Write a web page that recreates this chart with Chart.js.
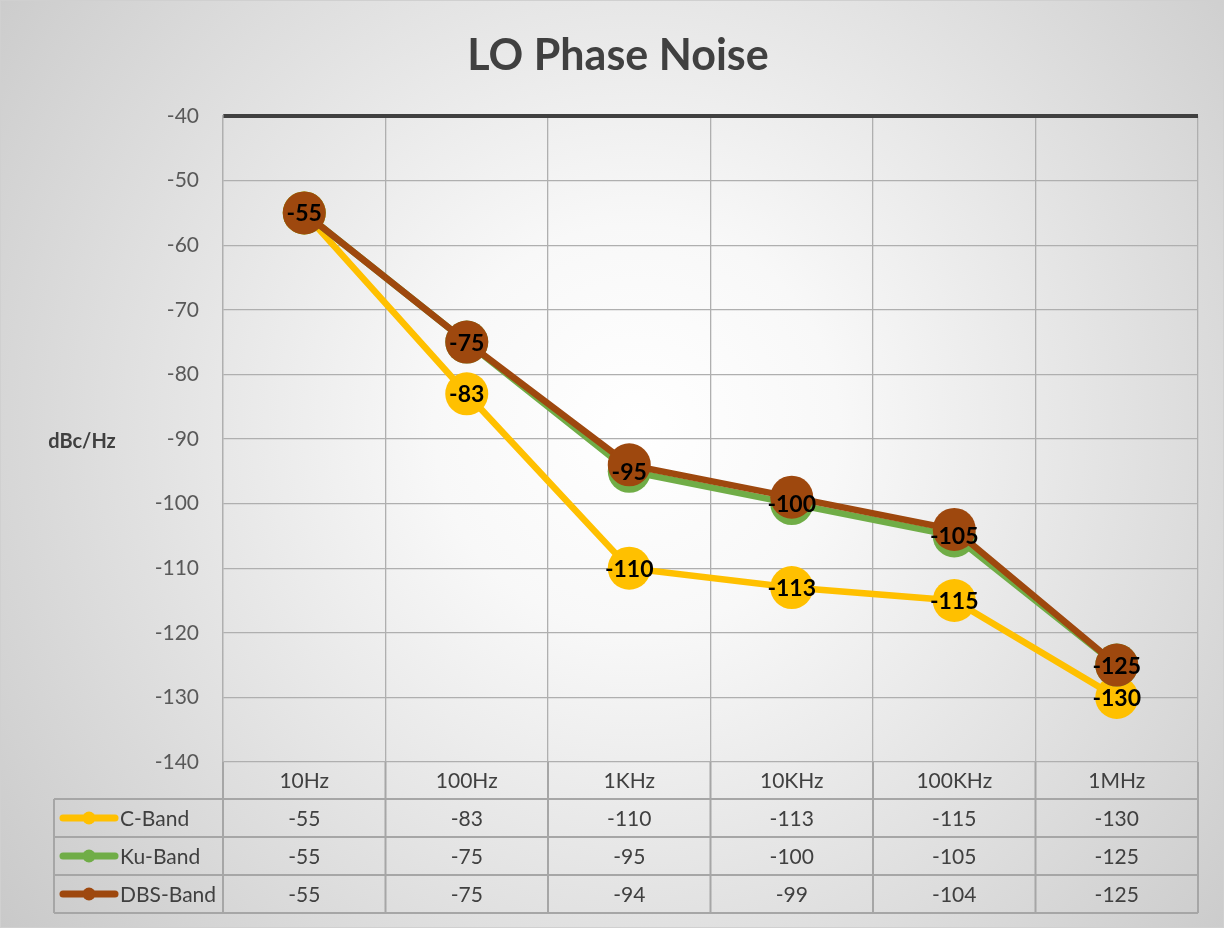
<!DOCTYPE html>
<html>
<head>
<meta charset="utf-8">
<script src="https://cdn.jsdelivr.net/npm/chart.js@4.4.1/dist/chart.umd.min.js"></script>
<style>
  html, body { margin: 0; padding: 0; }
  #wrap {
    width: 1224px;
    height: 928px;
    box-sizing: border-box;
    border: 1px solid #d0d0d0;
    background: radial-gradient(circle farthest-corner at 52% 46%, #ffffff 0%, #f8f8f8 25%, #c9c9c9 100%);
  }
</style>
</head>
<body>
<div id="wrap"><canvas id="myChart"></canvas></div>
<script>
// chart data
const freqs = ["10Hz", "100Hz", "1KHz", "10KHz", "100KHz", "1MHz"];
const cBand = [-55, -83, -110, -113, -115, -130];
const kuBand = [-55, -75, -95, -100, -105, -125];
const dbsBand = [-55, -75, -94, -99, -104, -125];
const seriesNames = ["C-Band", "Ku-Band", "DBS-Band"];
const seriesColors = ["#FFC000", "#70AD47", "#9E480E"];
const yTicks = [-40, -50, -60, -70, -80, -90, -100, -110, -120, -130, -140];

const seriesValues = [cBand, kuBand, dbsBand];
const fontName = "Lato, 'Open Sans', sans-serif";
const gridGrey = "#afafaf";
const tableGrey = "#a6a6a6";

// title, axis name, data labels and the data table under the plot
const extrasPlugin = {
  id: "extras",
  afterDatasetsDraw(chart) {
    const ctx = chart.ctx;
    ctx.save();
    ctx.fillStyle = "#000000";
    ctx.font = "bold 23px " + fontName;
    ctx.textAlign = "center";
    ctx.textBaseline = "middle";
    // labels for C-Band and Ku-Band (DBS labels are hidden in the original)
    [0, 1].forEach((dsIndex) => {
      let meta = chart.getDatasetMeta(dsIndex);
      meta.data.forEach((pt, i) => {
        if (dsIndex === 1 && kuBand[i] === cBand[i]) return;
        ctx.fillText(String(seriesValues[dsIndex][i]), pt.x, pt.y + 1);
      });
    });
    ctx.restore();
  },
  afterDraw(chart) {
    const ctx = chart.ctx;
    const area = chart.chartArea;
    const xScale = chart.scales.x;
    ctx.save();

    // title
    ctx.fillStyle = "#404040";
    ctx.font = "bold 43px " + fontName;
    ctx.textAlign = "center";
    ctx.textBaseline = "middle";
    ctx.fillText("LO Phase Noise", 617, 55);

    // y axis name, horizontal
    ctx.font = "bold 20px " + fontName;
    ctx.fillStyle = "#404040";
    ctx.fillText("dBc/Hz", 81, 441);

    // data table
    const step = xScale.getPixelForValue(1) - xScale.getPixelForValue(0);
    const colEdges = freqs.map((f, i) => xScale.getPixelForValue(i) - step / 2);
    colEdges.push(area.right);
    const headTop = area.bottom;
    const rowH = 38;
    const rowTop = headTop + 37;
    const tableLeft = 53;
    const tableBottom = rowTop + rowH * seriesNames.length;

    ctx.strokeStyle = tableGrey;
    ctx.lineWidth = 2;
    ctx.beginPath();
    colEdges.forEach((x) => {
      ctx.moveTo(x, headTop);
      ctx.lineTo(x, tableBottom);
    });
    ctx.moveTo(tableLeft, rowTop);
    ctx.lineTo(tableLeft, tableBottom);
    for (let r = 0; r <= seriesNames.length; r++) {
      ctx.moveTo(tableLeft, rowTop + r * rowH);
      ctx.lineTo(area.right, rowTop + r * rowH);
    }
    ctx.stroke();

    ctx.font = "21px " + fontName;
    ctx.fillStyle = "#404040";
    seriesNames.forEach((name, r) => {
      let cy = rowTop + r * rowH + rowH / 2;
      // legend key
      ctx.strokeStyle = seriesColors[r];
      ctx.lineWidth = 7;
      ctx.lineCap = "round";
      ctx.beginPath();
      ctx.moveTo(62, cy);
      ctx.lineTo(114, cy);
      ctx.stroke();
      ctx.fillStyle = seriesColors[r];
      ctx.beginPath();
      ctx.arc(88, cy, 6.5, 0, Math.PI * 2);
      ctx.fill();
      ctx.fillStyle = "#404040";
      ctx.textAlign = "left";
      ctx.fillText(name, 119, cy + 1);
      ctx.textAlign = "center";
      seriesValues[r].forEach((v, i) => {
        ctx.fillText(String(v), xScale.getPixelForValue(i), cy + 1);
      });
    });
    ctx.restore();
  },
};

const data = {
  labels: freqs,
  datasets: seriesNames.map((name, i) => ({
    label: name,
    data: seriesValues[i],
    borderColor: seriesColors[i],
    backgroundColor: seriesColors[i],
    borderWidth: 6.5,
    pointRadius: 21.5,
    pointHoverRadius: 21.5,
    pointBorderWidth: 0,
    tension: 0,
    order: 3 - i,
  })),
};

const config = {
  type: "line",
  data: data,
  options: {
    responsive: true,
    maintainAspectRatio: false,
    animation: false,
    layout: {
      padding: { top: 115, right: 25, bottom: 0, left: 0 },
    },
    plugins: {
      legend: { display: false },
      tooltip: { enabled: false },
    },
    scales: {
      x: {
        offset: true,
        grid: {
          offset: true,
          color: gridGrey,
          lineWidth: 1.3,
          drawTicks: false,
        },
        border: { display: false },
        ticks: {
          color: "#404040",
          font: { family: fontName, size: 21 },
          padding: 7,
        },
        afterFit: (scale) => {
          scale.height = 165;
        },
      },
      y: {
        min: -140,
        max: -40,
        afterBuildTicks: (scale) => {
          scale.ticks = yTicks.map((v) => ({ value: v }));
        },
        grid: {
          color: (c) => (c.tick && c.tick.value === -40 ? "#404040" : gridGrey),
          lineWidth: (c) => (c.tick && c.tick.value === -40 ? 4 : 1.3),
          drawTicks: false,
        },
        border: { display: true, color: gridGrey, width: 1.3 },
        ticks: {
          color: "#595959",
          font: { family: fontName, size: 21 },
          padding: 24,
        },
        afterFit: (scale) => {
          scale.width = 222;
        },
      },
    },
  },
  plugins: [extrasPlugin],
};

let myChart = new Chart(document.querySelector("#myChart"), config);
</script>
</body>
</html>
